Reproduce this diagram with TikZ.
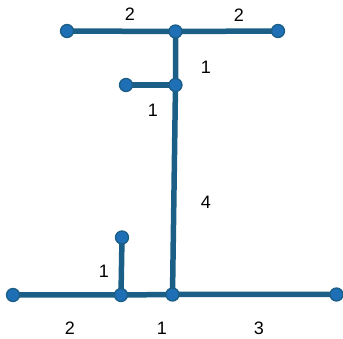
\documentclass[tikz,border=0pt]{standalone}
\usepackage{fontspec}
\setmainfont{Liberation Sans}
\begin{document}
\begin{tikzpicture}[x=1pt,y=-1pt,
  vert/.style={circle,fill=nodeblue,draw=edgeblue,line width=1.3pt,minimum size=13pt,inner sep=0pt},
  edge/.style={draw=edgeblue,line width=5.5pt},
  lbl/.style={font=\fontsize{18}{18}\selectfont,text=black}]
\definecolor{edgeblue}{HTML}{1B5E86}
\definecolor{nodeblue}{HTML}{1E6FB5}
\useasboundingbox (0,0) rectangle (343,339);
\coordinate (tl) at (67,31);
\coordinate (tc) at (175.5,31.5);
\coordinate (tr) at (278,31);
\coordinate (ml) at (126,85);
\coordinate (mr) at (175.5,85);
\coordinate (bl) at (13,295);
\coordinate (bm) at (121,295);
\coordinate (bc) at (172.5,294.5);
\coordinate (br) at (336.5,294.5);
\coordinate (up) at (122,237.5);
\path[edge] (tl) -- (tc) -- (tr);
\path[edge] (tc) -- (mr) -- (bc);
\path[edge] (ml) -- (mr);
\path[edge] (bl) -- (bm) -- (bc) -- (br);
\path[edge] (up) -- (bm);
\foreach \n in {tl,tc,tr,ml,mr,bl,bm,bc,br,up} \node[vert] (v\n) at (\n) {};
\node[lbl] (l1) at (130,14) {2};
\node[lbl] (l2) at (239,15) {2};
\node[lbl] (l3) at (206,67) {1};
\node[lbl] (l4) at (153,110) {1};
\node[lbl] (l5) at (206,202) {4};
\node[lbl] (l6) at (104,271) {1};
\node[lbl] (l7) at (70,328) {2};
\node[lbl] (l8) at (162,328) {1};
\node[lbl] (l9) at (259,328) {3};
\end{tikzpicture}
\end{document}
